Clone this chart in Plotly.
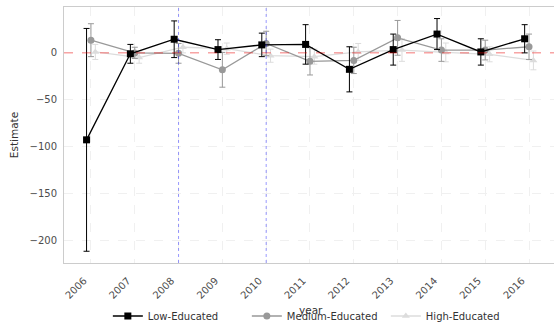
import plotly.graph_objects as go

# Yearly estimates with symmetric confidence half-widths, by education group
years = [2006, 2007, 2008, 2009, 2010, 2011, 2012, 2013, 2014, 2015, 2016]

low_est = [-92.5, -1, 14.5, 3.5, 8.5, 9, -17.5, 3.5, 20, 1, 15]
low_err = [118.5, 10, 19.5, 10.5, 12.5, 21, 24, 16.5, 16.5, 14, 15]

med_est = [13.5, 0, -0.5, -18, 10, -9, -8, 16, 3, 3, 6.5]
med_err = [17.5, 6, 10.5, 18.5, 13, 14.5, 14, 18.5, 12, 10.5, 13.5]

high_est = [1, -5, 6, 4.5, -3, -4, 1, 3, 0.5, -1.5, -8]
high_err = [8, 6, 6, 6, 7, 8, 9, 12, 10, 8, 10]

policy_years = [2008, 2010]
tick_years = [str(y) for y in years]

groups = [
    ("Low-Educated", low_est, low_err, -0.1, "#000000", "square"),
    ("Medium-Educated", med_est, med_err, 0.0, "#999999", "circle"),
    ("High-Educated", high_est, high_err, 0.1, "#dcdcdc", "triangle-up"),
]

FONT = "DejaVu Sans"
fig = go.Figure()

# Draw the lightest group first so darker series sit on top
for name, est, err, dodge, color, symbol in reversed(groups):
    fig.add_trace(go.Scatter(
        x=[y + dodge for y in years],
        y=est,
        name=name,
        mode="lines+markers",
        line=dict(color=color, width=1.3),
        marker=dict(color=color, symbol=symbol, size=7),
        error_y=dict(type="data", array=err, symmetric=True,
                     color=color, thickness=1, width=3),
    ))

# Reference lines: zero effect and the policy years
fig.add_hline(y=0, line=dict(color="rgba(255,0,0,0.5)", width=1, dash="dash"))
for py in policy_years:
    fig.add_vline(x=py, line=dict(color="rgba(0,0,255,0.5)", width=0.8, dash="dot"))

grid = "#f0f0f0"
fig.update_layout(
    width=554, height=331,
    margin=dict(l=64, r=0, t=7, b=68),
    plot_bgcolor="white", paper_bgcolor="white",
    font=dict(family=FONT, size=10, color="#4d4d4d"),
    showlegend=True,
    legend=dict(
        orientation="h", x=0.515, xanchor="center", y=-0.207, yanchor="middle",
        traceorder="reversed",
        font=dict(family=FONT, size=10, color="#333333"),
        itemwidth=30,
        entrywidth=94, entrywidthmode="pixels",
    ),
    xaxis=dict(
        range=[2005.385, 2016.57],
        tickmode="array", tickvals=years, ticktext=tick_years,
        tickangle=-45, ticks="", ticklabelstandoff=7, ticklabelshift=-7,
        showgrid=True, gridcolor=grid, griddash="dash",
        gridwidth=0.8, zeroline=False,
        showline=True, linecolor="#cccccc", linewidth=1, mirror=True,
        tickfont=dict(family=FONT, size=10, color="#4d4d4d"),
    ),
    yaxis=dict(
        range=[-223.5, 48.8],
        tickvals=[0, -50, -100, -150, -200],
        ticktext=["0", "\u221250", "\u2212100", "\u2212150", "\u2212200"],
        ticks="", ticklabelstandoff=4,
        showgrid=True, gridcolor=grid, griddash="dash", gridwidth=0.8,
        zeroline=False,
        showline=True, linecolor="#cccccc", linewidth=1, mirror=True,
        tickfont=dict(family=FONT, size=10, color="#4d4d4d"),
        title=dict(text="Estimate", font=dict(family=FONT, size=10.5, color="#333333"),
                   standoff=8),
    ),
    annotations=[dict(
        text="year", xref="paper", yref="paper", x=0.505, y=-0.184,
        xanchor="center", yanchor="middle", showarrow=False,
        font=dict(family=FONT, size=10.5, color="#333333"),
    )],
)

fig.write_html("out.html")
